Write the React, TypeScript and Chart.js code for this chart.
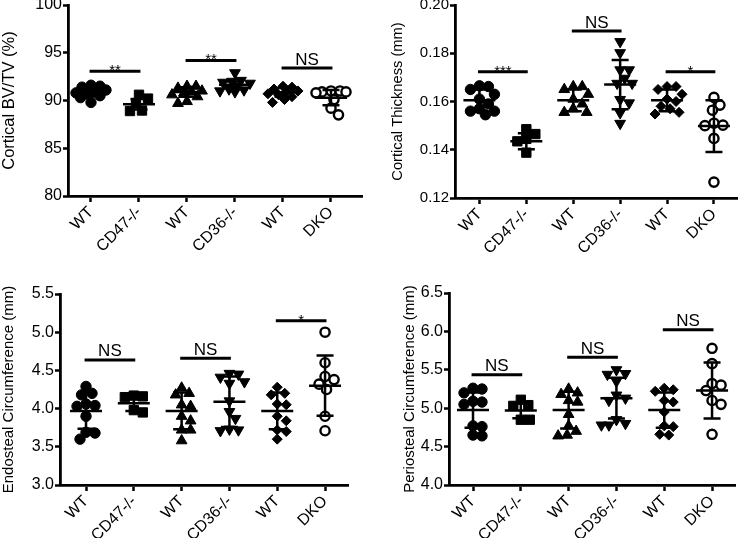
import React, { useEffect, useRef } from "react";
import { Chart, registerables } from "chart.js";
Chart.register(...registerables);

const FONT = "'Liberation Sans', Arial, Helvetica, sans-serif";
Chart.defaults.font.family = FONT;
Chart.defaults.color = "#000";

const groupLabels = ["WT", "CD47-/-", "WT", "CD36-/-", "WT", "DKO"];

// Panel A: Cortical BV/TV (%)
const bvWT1 = [91.6, 91.5, 91.4, 91.1, 90.9, 90.8, 90.7, 90.5, 90.3, 89.8];
const bvCD47 = [90.6, 90.2, 89.7, 88.95, 88.9];
const bvWT2 = [91.5, 91.5, 91.3, 91.0, 90.9, 90.8, 90.6, 90.4, 89.9, 89.7];
const bvCD36 = [92.9, 92.1, 92.0, 91.9, 91.8, 91.5, 91.2, 91.0, 90.9, 91.1];
const bvWT3 = [91.5, 91.4, 91.2, 91.0, 90.9, 90.7, 90.6, 90.4, 90.1, 89.8];
const bvDKO = [91.0, 91.0, 90.9, 90.9, 90.8, 90.1, 89.2, 88.5];
const bvMean = [90.85, 89.6, 90.9, 91.65, 90.85, 90.3];
const bvSD = [0.4, 0.55, 0.5, 0.35, 0.45, 0.8];
const bvBracketY = [93.05, 94.2, 93.4];
const bvBracketText = ["**", "**", "NS"];
const bvTicks = [80, 85, 90, 95, 100];

// Panel B: Cortical Thickness (mm)
const ctWT1 = [0.1665, 0.1662, 0.165, 0.163, 0.161, 0.159, 0.157, 0.156, 0.156, 0.1545];
const ctCD47 = [0.1485, 0.1465, 0.1445, 0.1435, 0.1388];
const ctWT2 = [0.1662, 0.1662, 0.165, 0.163, 0.161, 0.159, 0.157, 0.1555, 0.1555];
const ctCD36 = [0.1848, 0.1802, 0.1731, 0.1731, 0.1696, 0.1675, 0.1675, 0.1608, 0.1594, 0.1553, 0.1509];
const ctWT3 = [0.1662, 0.1662, 0.165, 0.163, 0.161, 0.16, 0.158, 0.157, 0.1555, 0.1548];
const ctDKO = [0.1617, 0.1585, 0.1564, 0.151, 0.1502, 0.15, 0.1447, 0.1266];
const ctMean = [0.1605, 0.1435, 0.1605, 0.167, 0.1605, 0.1498];
const ctSD = [0.0045, 0.0033, 0.0045, 0.0102, 0.0045, 0.0107];
const ctBracketY = [0.1723, 0.1892, 0.1723];
const ctBracketText = ["***", "NS", "*"];
const ctTicks = [0.12, 0.14, 0.16, 0.18, 0.2];

// Panel C: Endosteal Circumference (mm)
const enWT1 = [4.29, 4.2, 4.18, 4.06, 4.04, 4.03, 3.9, 3.69, 3.68, 3.6];
const enCD47 = [4.17, 4.16, 4.15, 3.98, 3.95];
const enWT2 = [4.27, 4.2, 4.18, 4.05, 4.03, 3.9, 3.84, 3.72, 3.72, 3.58];
const enCD36 = [4.46, 4.45, 4.41, 4.35, 4.33, 4.1, 3.96, 3.87, 3.73, 3.72, 3.71];
const enWT3 = [4.28, 4.2, 4.18, 4.06, 4.05, 3.9, 3.84, 3.72, 3.7, 3.6];
const enDKO = [5.0, 4.6, 4.42, 4.38, 4.32, 4.25, 3.9, 3.71];
const enMean = [3.97, 4.07, 3.97, 4.09, 3.97, 4.3];
const enSD = [0.235, 0.1, 0.24, 0.33, 0.24, 0.395];
const enBracketY = [4.637, 4.66, 5.15];
const enBracketText = ["NS", "NS", "*"];
const enTicks = [3.0, 3.5, 4.0, 4.5, 5.0, 5.5];

// Panel D: Periosteal Circumference (mm)
const peWT1 = [5.26, 5.25, 5.2, 5.09, 5.08, 5.05, 4.77, 4.76, 4.65, 4.64];
const peCD47 = [5.11, 5.04, 5.03, 4.85, 4.85];
const peWT2 = [5.25, 5.2, 5.18, 5.1, 5.08, 4.92, 4.77, 4.7, 4.65, 4.64];
const peCD36 = [5.5, 5.45, 5.44, 5.35, 5.17, 5.13, 5.1, 4.85, 4.8, 4.78, 4.78];
const peWT3 = [5.26, 5.24, 5.22, 5.1, 5.08, 4.95, 4.77, 4.76, 4.66, 4.65];
const peDKO = [5.78, 5.58, 5.32, 5.3, 5.23, 5.1, 5.05, 4.66];
const peMean = [4.975, 4.97, 4.975, 5.13, 4.975, 5.23];
const peSD = [0.23, 0.1, 0.24, 0.265, 0.23, 0.365];
const peBracketY = [5.435, 5.665, 6.02];
const peBracketText = ["NS", "NS", "NS"];
const peTicks = [4.0, 4.5, 5.0, 5.5, 6.0, 6.5];

type PanelSpec = {
  title: string;
  groups: number[][];
  means: number[];
  sds: number[];
  bracketY: number[];
  bracketText: string[];
  yTicks: number[];
  decimals: number;
  left: number;
  top: number;
  width: number;
  height: number;
  padTop: number;
  padRight: number;
  yWidth: number;
  xHeight: number;
  xMin: number;
  xMax: number;
  titlePad: number;
  titleSize: number;
  tickSize: number;
};

const panels: PanelSpec[] = [
  {
    title: "Cortical BV/TV (%)",
    groups: [bvWT1, bvCD47, bvWT2, bvCD36, bvWT3, bvDKO],
    means: bvMean, sds: bvSD, bracketY: bvBracketY, bracketText: bvBracketText,
    yTicks: bvTicks, decimals: 0,
    left: 0, top: -15, width: 372, height: 284, padTop: 20, padRight: 10,
    yWidth: 68, xHeight: 73, xMin: -0.479, xMax: 5.646, titlePad: 0,
    titleSize: 16.5, tickSize: 16,
  },
  {
    title: "Cortical Thickness (mm)",
    groups: [ctWT1, ctCD47, ctWT2, ctCD36, ctWT3, ctDKO],
    means: ctMean, sds: ctSD, bracketY: ctBracketY, bracketText: ctBracketText,
    yTicks: ctTicks, decimals: 2,
    left: 372, top: -15, width: 373, height: 284, padTop: 20, padRight: 1,
    yWidth: 83, xHeight: 71, xMin: -0.521, xMax: 5.5, titlePad: 17,
    titleSize: 14.7, tickSize: 15,
  },
  {
    title: "Endosteal Circumference (mm)",
    groups: [enWT1, enCD47, enWT2, enCD36, enWT3, enDKO],
    means: enMean, sds: enSD, bracketY: enBracketY, bracketText: enBracketText,
    yTicks: enTicks, decimals: 1,
    left: 0, top: 269, width: 372, height: 269, padTop: 25, padRight: 24,
    yWidth: 60, xHeight: 53, xMin: -0.544, xMax: 5.48, titlePad: 0,
    titleSize: 15, tickSize: 16,
  },
  {
    title: "Periosteal Circumference (mm)",
    groups: [peWT1, peCD47, peWT2, peCD36, peWT3, peDKO],
    means: peMean, sds: peSD, bracketY: peBracketY, bracketText: peBracketText,
    yTicks: peTicks, decimals: 1,
    left: 372, top: 269, width: 373, height: 269, padTop: 24, padRight: 10,
    yWidth: 77, xHeight: 53, xMin: -0.502, xMax: 5.48, titlePad: 29,
    titleSize: 15, tickSize: 16,
  },
];

const markers = [
  { style: "circle", radius: 5.2, fill: "#000", bw: 1, rot: 0 },
  { style: "rect", radius: 6.6, fill: "#000", bw: 1, rot: 0 },
  { style: "triangle", radius: 6.2, fill: "#000", bw: 1, rot: 0 },
  { style: "triangle", radius: 6.2, fill: "#000", bw: 1, rot: 180 },
  { style: "rectRot", radius: 5, fill: "#000", bw: 1, rot: 0 },
  { style: "circle", radius: 4.6, fill: "#fff", bw: 2.4, rot: 0 },
];

const STEP = 1.5;
const MIN_DIST = 9;
const MAX_OFF = 15;

function applySwarm(chart: any, groups: number[][]) {
  const xs = chart.scales.x;
  const ys = chart.scales.y;
  const unit = xs.getPixelForValue(1) - xs.getPixelForValue(0);
  const cands: number[] = [0];
  for (let o = STEP; o <= MAX_OFF + 1e-6; o += STEP) cands.push(o, -o);
  groups.forEach((vals, gi) => {
    const placed: { x: number; y: number }[] = [];
    const offs = new Array(vals.length).fill(0);
    const order = vals.map((_, i) => i).sort((a, b) => vals[b] - vals[a]);
    for (const i of order) {
      const py = ys.getPixelForValue(vals[i]);
      let best = 0;
      let bestD = -1;
      let found = false;
      for (const o of cands) {
        const d = placed.length
          ? Math.min(...placed.map((p) => Math.hypot(p.x - o, p.y - py)))
          : Infinity;
        if (d >= MIN_DIST) {
          best = o;
          found = true;
          break;
        }
        if (d > bestD + 0.5) {
          bestD = d;
          best = o;
        }
      }
      if (!found && bestD < 0) best = 0;
      placed.push({ x: best, y: py });
      offs[i] = best;
    }
    chart.data.datasets[gi].data = vals.map((v, i) => ({ x: gi + offs[i] / unit, y: v }));
  });
  chart.update();
}

function makeOverlay(spec: PanelSpec) {
  return {
    id: "overlay",
    afterDatasetsDraw(chart: any) {
      const ctx = chart.ctx;
      const xs = chart.scales.x;
      const ys = chart.scales.y;
      ctx.save();
      ctx.strokeStyle = "#000";
      ctx.fillStyle = "#000";
      ctx.lineWidth = 2.5;
      ctx.lineCap = "butt";
      spec.means.forEach((m, i) => {
        const cx = xs.getPixelForValue(i);
        const yM = ys.getPixelForValue(m);
        const yHi = ys.getPixelForValue(m + spec.sds[i]);
        const yLo = ys.getPixelForValue(m - spec.sds[i]);
        ctx.beginPath();
        ctx.moveTo(cx - 16, yM);
        ctx.lineTo(cx + 16, yM);
        ctx.moveTo(cx, yHi);
        ctx.lineTo(cx, yLo);
        ctx.moveTo(cx - 8.5, yHi);
        ctx.lineTo(cx + 8.5, yHi);
        ctx.moveTo(cx - 8.5, yLo);
        ctx.lineTo(cx + 8.5, yLo);
        ctx.stroke();
      });
      ctx.lineWidth = 3;
      spec.bracketY.forEach((by, j) => {
        const g = j * 2;
        const x0 = xs.getPixelForValue(g - 0.03);
        const x1 = xs.getPixelForValue(g + 1.03);
        const y = ys.getPixelForValue(by);
        ctx.beginPath();
        ctx.moveTo(x0, y);
        ctx.lineTo(x1, y);
        ctx.stroke();
        const txt = spec.bracketText[j];
        ctx.textAlign = "center";
        ctx.textBaseline = "alphabetic";
        if (txt === "NS") {
          ctx.font = `17px ${FONT}`;
          ctx.fillText(txt, (x0 + x1) / 2, y - 3.5);
        } else {
          ctx.font = `15px ${FONT}`;
          ctx.fillText(txt, (x0 + x1) / 2, y + 4);
        }
      });
      ctx.restore();
    },
  };
}

function PanelChart({ spec }: { spec: PanelSpec }) {
  const ref = useRef<HTMLCanvasElement | null>(null);
  useEffect(() => {
    if (!ref.current) return;
    const yMin = spec.yTicks[0];
    const yMax = spec.yTicks[spec.yTicks.length - 1];
    const chart = new Chart(ref.current, {
      type: "scatter",
      data: {
        datasets: spec.groups.map((vals, gi) => {
          const mk = markers[gi];
          return {
            label: groupLabels[gi],
            data: vals.map((v) => ({ x: gi, y: v })),
            pointStyle: mk.style as any,
            pointRadius: mk.radius,
            pointHoverRadius: mk.radius,
            pointRotation: mk.rot,
            backgroundColor: mk.fill,
            borderColor: "#000",
            pointBorderWidth: mk.bw,
            borderWidth: mk.bw,
          };
        }),
      },
      options: {
        responsive: false,
        animation: false,
        events: [],
        layout: { padding: { top: spec.padTop, right: spec.padRight, left: 0, bottom: 0 } },
        plugins: { legend: { display: false }, tooltip: { enabled: false } },
        scales: {
          x: {
            type: "linear",
            min: spec.xMin,
            max: spec.xMax,
            afterBuildTicks: (scale: any) => {
              scale.ticks = groupLabels.map((_, i) => ({ value: i }));
            },
            afterFit: (scale: any) => {
              scale.height = spec.xHeight;
            },
            ticks: {
              callback: (v: any) => groupLabels[Math.round(Number(v))] ?? "",
              minRotation: 45,
              maxRotation: 45,
              autoSkip: false,
              padding: 1,
              color: "#000",
              font: { size: 16, family: FONT },
            },
            grid: {
              display: true,
              drawOnChartArea: false,
              drawTicks: true,
              tickLength: 6,
              tickWidth: 2.5,
              tickColor: "#000",
            },
            border: { display: true, color: "#000", width: 2.8 },
          },
          y: {
            type: "linear",
            min: yMin,
            max: yMax,
            afterBuildTicks: (scale: any) => {
              scale.ticks = spec.yTicks.map((v) => ({ value: v }));
            },
            afterFit: (scale: any) => {
              scale.width = spec.yWidth;
            },
            ticks: {
              callback: (v: any) => Number(v).toFixed(spec.decimals),
              padding: 1,
              color: "#000",
              font: { size: spec.tickSize, family: FONT },
            },
            grid: {
              display: true,
              drawOnChartArea: false,
              drawTicks: true,
              tickLength: 5,
              tickWidth: 2.5,
              tickColor: "#000",
            },
            border: { display: true, color: "#000", width: 2.8 },
            title: {
              display: true,
              text: spec.title,
              color: "#000",
              font: { size: spec.titleSize, family: FONT },
              padding: { top: spec.titlePad, bottom: 0 },
            },
          },
        },
      },
      plugins: [makeOverlay(spec)],
    } as any);
    applySwarm(chart, spec.groups);
    return () => chart.destroy();
  }, [spec]);
  return (
    <canvas
      ref={ref}
      width={spec.width}
      height={spec.height}
      style={{
        position: "absolute",
        left: spec.left,
        top: spec.top,
        width: spec.width,
        height: spec.height,
      }}
    />
  );
}

export default function App() {
  return (
    <div
      style={{
        position: "absolute",
        left: 0,
        top: 0,
        width: 745,
        height: 538,
        overflow: "hidden",
        background: "#fff",
      }}
    >
      {panels.map((p, i) => (
        <PanelChart key={i} spec={p} />
      ))}
    </div>
  );
}
